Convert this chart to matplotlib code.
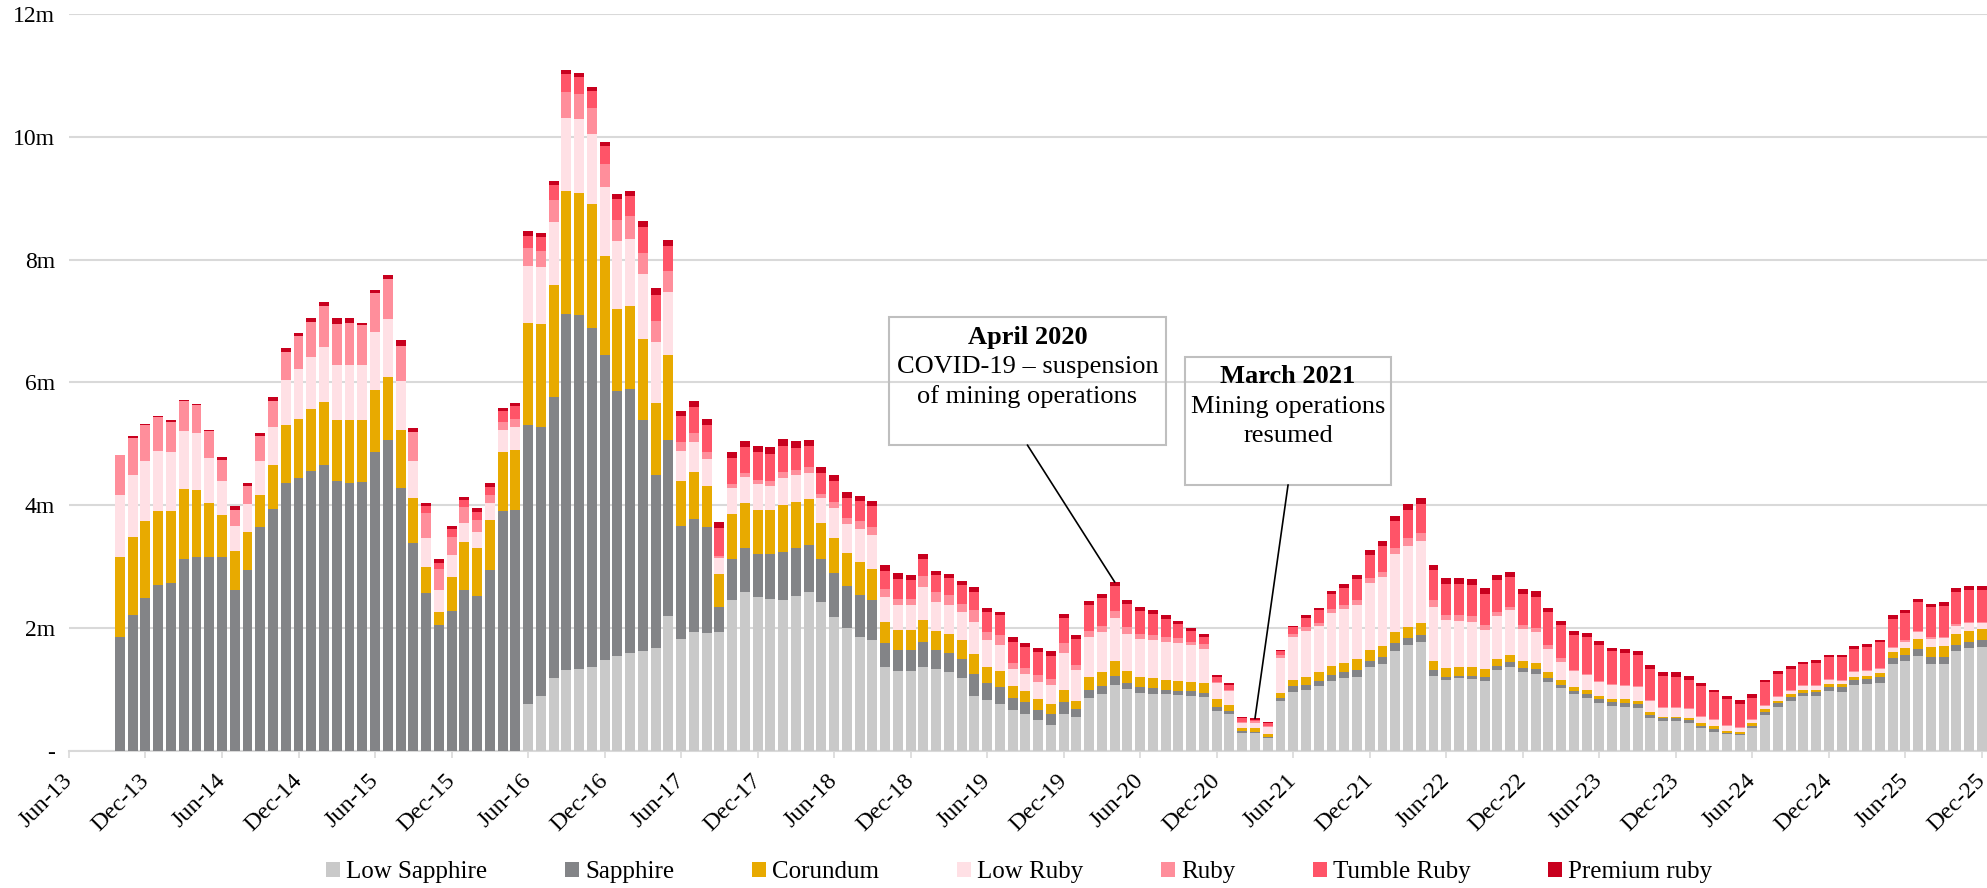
import matplotlib.pyplot as plt
import numpy as np
from matplotlib.patches import Rectangle

plt.rcParams['font.family'] = ['Liberation Serif', 'DejaVu Serif']

# monthly volumes in millions, Oct-13 .. Dec-25 (147 months)
low_sapphire = [0.0] * 32 + [
    0.77, 0.90, 1.19, 1.32, 1.34, 1.36, 1.48, 1.54, 1.60, 1.62,
    1.68, 2.20, 1.82, 1.94, 1.92, 1.93, 2.46, 2.59, 2.50, 2.48,
    2.46, 2.52, 2.58, 2.43, 2.18, 2.00, 1.86, 1.80, 1.36, 1.30,
    1.31, 1.37, 1.33, 1.28, 1.18, 0.90, 0.83, 0.77, 0.66, 0.61,
    0.50, 0.43, 0.60, 0.56, 0.86, 0.92, 1.07, 1.01, 0.94, 0.93,
    0.92, 0.91, 0.90, 0.88, 0.65, 0.60, 0.30, 0.29, 0.21, 0.81,
    0.96, 1.00, 1.05, 1.14, 1.18, 1.21, 1.36, 1.41, 1.62, 1.72,
    1.77, 1.22, 1.16, 1.18, 1.17, 1.14, 1.32, 1.37, 1.28, 1.25,
    1.12, 1.02, 0.92, 0.87, 0.78, 0.74, 0.72, 0.70, 0.54, 0.48,
    0.48, 0.46, 0.38, 0.31, 0.28, 0.26, 0.38, 0.58, 0.72, 0.82,
    0.89, 0.90, 0.97, 0.96, 1.08, 1.09, 1.11, 1.41, 1.46, 1.54,
    1.42, 1.42, 1.62, 1.68, 1.70]

sapphire = [
    1.86, 2.22, 2.49, 2.70, 2.74, 3.12, 3.16, 3.16, 3.16, 2.62,
    2.94, 3.65, 3.94, 4.37, 4.45, 4.56, 4.66, 4.40, 4.37, 4.38,
    4.86, 5.06, 4.28, 3.38, 2.57, 2.05, 2.28, 2.62, 2.52, 2.94,
    3.90, 3.92, 4.54, 4.38, 4.58, 5.80, 5.75, 5.52, 4.97, 4.32,
    4.30, 3.77, 2.81, 2.86, 1.84, 1.83, 1.73, 0.42, 0.66, 0.71,
    0.71, 0.73, 0.78, 0.78, 0.77, 0.70, 0.72, 0.69, 0.68, 0.65,
    0.40, 0.35, 0.34, 0.40, 0.32, 0.32, 0.32, 0.36, 0.27, 0.27,
    0.21, 0.18, 0.17, 0.17, 0.20, 0.12, 0.14, 0.14, 0.15, 0.10,
    0.10, 0.10, 0.08, 0.07, 0.07, 0.07, 0.06, 0.05, 0.02, 0.02,
    0.02, 0.06, 0.09, 0.08, 0.09, 0.10, 0.11, 0.11, 0.10, 0.12,
    0.14, 0.12, 0.12, 0.10, 0.05, 0.04, 0.05, 0.06, 0.06, 0.08,
    0.07, 0.08, 0.06, 0.06, 0.06, 0.06, 0.06, 0.05, 0.06, 0.06,
    0.05, 0.05, 0.05, 0.04, 0.03, 0.04, 0.02, 0.02, 0.03, 0.06,
    0.06, 0.06, 0.06, 0.06, 0.07, 0.08, 0.08, 0.08, 0.10, 0.10,
    0.10, 0.12, 0.11, 0.11, 0.11, 0.10, 0.10]

corundum = [
    1.30, 1.27, 1.25, 1.21, 1.16, 1.14, 1.09, 0.88, 0.68, 0.63,
    0.62, 0.51, 0.72, 0.93, 0.96, 1.01, 1.02, 0.99, 1.01, 1.00,
    1.02, 1.02, 0.94, 0.74, 0.43, 0.22, 0.56, 0.78, 0.78, 0.82,
    0.97, 0.98, 1.66, 1.67, 1.82, 1.99, 2.00, 2.02, 1.61, 1.34,
    1.34, 1.31, 1.18, 1.38, 0.74, 0.77, 0.66, 0.53, 0.74, 0.74,
    0.72, 0.71, 0.77, 0.76, 0.75, 0.58, 0.56, 0.54, 0.54, 0.52,
    0.34, 0.32, 0.32, 0.36, 0.31, 0.31, 0.30, 0.32, 0.27, 0.27,
    0.18, 0.18, 0.17, 0.17, 0.20, 0.14, 0.21, 0.22, 0.24, 0.20,
    0.17, 0.16, 0.16, 0.16, 0.16, 0.15, 0.13, 0.10, 0.06, 0.06,
    0.04, 0.07, 0.10, 0.13, 0.15, 0.15, 0.15, 0.18, 0.18, 0.18,
    0.18, 0.18, 0.19, 0.15, 0.14, 0.14, 0.14, 0.13, 0.12, 0.11,
    0.11, 0.11, 0.10, 0.07, 0.06, 0.06, 0.06, 0.06, 0.06, 0.06,
    0.04, 0.03, 0.03, 0.04, 0.04, 0.05, 0.03, 0.03, 0.05, 0.04,
    0.04, 0.04, 0.05, 0.04, 0.05, 0.05, 0.04, 0.05, 0.06, 0.10,
    0.12, 0.17, 0.17, 0.18, 0.18, 0.18, 0.18]

low_ruby = [
    1.01, 1.00, 0.98, 0.98, 0.96, 0.95, 0.92, 0.73, 0.56, 0.42,
    0.46, 0.56, 0.62, 0.74, 0.81, 0.84, 0.90, 0.90, 0.90, 0.90,
    0.94, 0.95, 0.80, 0.60, 0.47, 0.35, 0.35, 0.31, 0.26, 0.27,
    0.35, 0.37, 0.92, 0.92, 1.02, 1.20, 1.20, 1.15, 1.12, 1.10,
    1.10, 1.06, 0.99, 1.03, 0.48, 0.49, 0.45, 0.26, 0.42, 0.42,
    0.41, 0.40, 0.44, 0.43, 0.43, 0.40, 0.50, 0.47, 0.53, 0.54,
    0.41, 0.40, 0.40, 0.54, 0.46, 0.47, 0.47, 0.52, 0.43, 0.42,
    0.29, 0.28, 0.29, 0.30, 0.60, 0.50, 0.65, 0.66, 0.71, 0.60,
    0.62, 0.62, 0.62, 0.62, 0.59, 0.56, 0.26, 0.23, 0.07, 0.09,
    0.12, 0.58, 0.70, 0.74, 0.74, 0.85, 0.87, 0.88, 1.09, 1.12,
    1.26, 1.32, 1.33, 0.88, 0.79, 0.76, 0.74, 0.64, 0.70, 0.73,
    0.52, 0.49, 0.38, 0.30, 0.26, 0.24, 0.22, 0.22, 0.22, 0.22,
    0.18, 0.14, 0.14, 0.14, 0.10, 0.10, 0.07, 0.06, 0.04, 0.05,
    0.06, 0.05, 0.05, 0.05, 0.06, 0.05, 0.08, 0.08, 0.06, 0.07,
    0.10, 0.11, 0.13, 0.13, 0.13, 0.12, 0.10]

ruby = [
    0.64, 0.61, 0.58, 0.54, 0.50, 0.49, 0.46, 0.44, 0.34, 0.26,
    0.30, 0.40, 0.42, 0.46, 0.53, 0.58, 0.66, 0.66, 0.68, 0.66,
    0.63, 0.66, 0.58, 0.47, 0.40, 0.34, 0.30, 0.26, 0.20, 0.13,
    0.13, 0.14, 0.29, 0.27, 0.36, 0.42, 0.40, 0.41, 0.38, 0.35,
    0.36, 0.35, 0.34, 0.35, 0.15, 0.15, 0.10, 0.04, 0.06, 0.06,
    0.07, 0.07, 0.09, 0.08, 0.09, 0.08, 0.10, 0.10, 0.14, 0.14,
    0.12, 0.11, 0.11, 0.18, 0.16, 0.16, 0.13, 0.20, 0.14, 0.15,
    0.10, 0.10, 0.10, 0.10, 0.16, 0.08, 0.10, 0.10, 0.11, 0.10,
    0.08, 0.08, 0.08, 0.08, 0.06, 0.08, 0.03, 0.02, 0.02, 0.02,
    0.01, 0.05, 0.06, 0.06, 0.06, 0.07, 0.06, 0.07, 0.09, 0.08,
    0.11, 0.12, 0.14, 0.10, 0.08, 0.10, 0.10, 0.08, 0.07, 0.06,
    0.07, 0.07, 0.06, 0.06, 0.02, 0.03, 0.02, 0.02, 0.02, 0.02,
    0.02, 0.02, 0.02, 0.02, 0.02, 0.02, 0.02, 0.02, 0.02, 0.02,
    0.02, 0.02, 0.02, 0.02, 0.02, 0.02, 0.02, 0.02, 0.02, 0.02,
    0.02, 0.02, 0.02, 0.02, 0.02, 0.02, 0.02]

tumble_ruby = [0.0] * 24 + [
    0.11, 0.10, 0.12, 0.11, 0.13, 0.14,
    0.18, 0.20, 0.21, 0.22, 0.24, 0.29, 0.28, 0.28, 0.28, 0.34,
    0.34, 0.42, 0.43, 0.40, 0.42, 0.42, 0.45, 0.45, 0.43, 0.42,
    0.45, 0.45, 0.43, 0.36, 0.34, 0.34, 0.34, 0.32, 0.32, 0.33,
    0.30, 0.32, 0.30, 0.28, 0.28, 0.28, 0.30, 0.29, 0.32, 0.33,
    0.34, 0.34, 0.38, 0.38, 0.40, 0.42, 0.42, 0.45, 0.40, 0.38,
    0.37, 0.34, 0.29, 0.23, 0.17, 0.12, 0.08, 0.08, 0.06, 0.03,
    0.05, 0.05, 0.11, 0.16, 0.20, 0.24, 0.29, 0.35, 0.37, 0.42,
    0.43, 0.46, 0.47, 0.50, 0.50, 0.50, 0.50, 0.50, 0.51, 0.49,
    0.50, 0.51, 0.54, 0.54, 0.56, 0.59, 0.58, 0.53, 0.52, 0.50,
    0.51, 0.50, 0.49, 0.46, 0.48, 0.44, 0.42, 0.38, 0.35, 0.37,
    0.35, 0.34, 0.34, 0.37, 0.36, 0.37, 0.36, 0.38, 0.42, 0.45,
    0.45, 0.46, 0.49, 0.50, 0.52, 0.52, 0.52]

premium_ruby = [
    0.01, 0.02, 0.02, 0.02, 0.02, 0.01, 0.01, 0.02, 0.04, 0.06,
    0.05, 0.05, 0.06, 0.06, 0.05, 0.05, 0.07, 0.10, 0.09, 0.03,
    0.05, 0.05, 0.09, 0.07, 0.05, 0.06, 0.05, 0.06, 0.06, 0.06,
    0.06, 0.06, 0.07, 0.07, 0.07, 0.06, 0.07, 0.06, 0.07, 0.08,
    0.08, 0.09, 0.10, 0.09, 0.09, 0.10, 0.10, 0.10, 0.10, 0.10,
    0.10, 0.11, 0.11, 0.11, 0.10, 0.10, 0.10, 0.10, 0.08, 0.09,
    0.10, 0.09, 0.08, 0.08, 0.07, 0.06, 0.07, 0.08, 0.06, 0.06,
    0.07, 0.07, 0.07, 0.07, 0.07, 0.06, 0.06, 0.07, 0.07, 0.07,
    0.06, 0.06, 0.06, 0.05, 0.05, 0.05, 0.03, 0.02, 0.02, 0.02,
    0.02, 0.02, 0.02, 0.04, 0.04, 0.06, 0.06, 0.06, 0.08, 0.08,
    0.09, 0.10, 0.10, 0.08, 0.10, 0.09, 0.10, 0.10, 0.08, 0.07,
    0.08, 0.09, 0.07, 0.07, 0.08, 0.07, 0.07, 0.06, 0.06, 0.06,
    0.06, 0.07, 0.07, 0.06, 0.05, 0.04, 0.05, 0.06, 0.06, 0.04,
    0.05, 0.05, 0.04, 0.04, 0.04, 0.04, 0.05, 0.04, 0.04, 0.06,
    0.05, 0.05, 0.06, 0.06, 0.07, 0.07, 0.07]

series_names = ['Low Sapphire', 'Sapphire', 'Corundum', 'Low Ruby', 'Ruby',
                'Tumble Ruby', 'Premium ruby']
series_colors = ['#C9C9C9', '#838487', '#E8AA00', '#FFE0E5', '#FF8E9B',
                 '#FF5468', '#C8001E']

tick_labels = ['Jun-13', 'Dec-13', 'Jun-14', 'Dec-14', 'Jun-15', 'Dec-15',
               'Jun-16', 'Dec-16', 'Jun-17', 'Dec-17', 'Jun-18', 'Dec-18',
               'Jun-19', 'Dec-19', 'Jun-20', 'Dec-20', 'Jun-21', 'Dec-21',
               'Jun-22', 'Dec-22', 'Jun-23', 'Dec-23', 'Jun-24', 'Dec-24',
               'Jun-25', 'Dec-25']
ytick_labels = ['-', '2m', '4m', '6m', '8m', '10m', '12m']

# annotated months (index from Oct-13)
covid_idx = 78     # Apr-20
resume_idx = 89    # Mar-21

series = [low_sapphire, sapphire, corundum, low_ruby, ruby, tumble_ruby, premium_ruby]
x = np.arange(len(sapphire))

fig = plt.figure(figsize=(19.87, 8.88), dpi=100)
ax = fig.add_axes([0.0347, 0.1543, 0.9653, 0.8302])

bottom = np.zeros(len(x))
handles = []
for vals, name, col in zip(series, series_names, series_colors):
    vals = np.array(vals)
    h = ax.bar(x, vals, width=0.78, bottom=bottom, color=col, label=name,
               linewidth=0, zorder=3)
    handles.append(h)
    bottom = bottom + vals
totals = bottom

ax.set_xlim(-4, len(x) - 1 + 0.4)
ax.set_ylim(0, 12)

ax.set_yticks(np.arange(0, 13, 2))
ax.set_yticklabels(ytick_labels, fontsize=17)
ax.tick_params(axis='y', length=0, pad=10)
ax.grid(axis='y', color='#D9D9D9', linewidth=1.5, zorder=0)
ax.set_axisbelow(True)

ax.set_xticks(np.arange(-4, len(x), 6))
ax.set_xticklabels(tick_labels, fontsize=17.5)
ax.tick_params(axis='x', direction='out', length=5, width=1.2, color='#D9D9D9', pad=14)
for lbl in ax.get_xticklabels():
    lbl.set_rotation(45)
    lbl.set_ha('right')
    lbl.set_va('center')
    lbl.set_rotation_mode('anchor')

for side in ['top', 'right', 'left']:
    ax.spines[side].set_visible(False)
ax.spines['bottom'].set_color('#D9D9D9')
ax.spines['bottom'].set_linewidth(1.5)

ax.legend(handles, series_names, loc='center', bbox_to_anchor=(0.513, 0.018),
          bbox_transform=fig.transFigure, ncol=7, frameon=False, fontsize=18,
          handlelength=0.56, handleheight=0.56, handletextpad=0.25,
          columnspacing=3.1)

# annotation boxes
box1 = Rectangle((0.4275, 0.415), 0.1445, 0.174, transform=ax.transAxes,
                 facecolor='none', edgecolor='#BFBFBF', linewidth=1.5, zorder=6)
ax.add_patch(box1)
ax.text(0.4997, 0.552, 'April 2020', transform=ax.transAxes, ha='center',
        va='baseline', fontsize=19, fontweight='bold', zorder=7)
ax.text(0.4997, 0.513, 'COVID-19 \u2013 suspension', transform=ax.transAxes,
        ha='center', va='baseline', fontsize=19, zorder=7)
ax.text(0.4997, 0.472, 'of mining operations', transform=ax.transAxes,
        ha='center', va='baseline', fontsize=19, zorder=7)
ax.annotate('', xy=(covid_idx, totals[covid_idx]), xycoords='data',
            xytext=(0.4997, 0.415), textcoords='axes fraction',
            arrowprops=dict(arrowstyle='-', color='black', lw=1.2,
                            shrinkA=0, shrinkB=0), zorder=7)

box2 = Rectangle((0.5819, 0.361), 0.1074, 0.1736, transform=ax.transAxes,
                 facecolor='none', edgecolor='#BFBFBF', linewidth=1.5, zorder=6)
ax.add_patch(box2)
ax.text(0.6356, 0.4993, 'March 2021', transform=ax.transAxes, ha='center',
        va='baseline', fontsize=19, fontweight='bold', zorder=7)
ax.text(0.6356, 0.4589, 'Mining operations', transform=ax.transAxes,
        ha='center', va='baseline', fontsize=19, zorder=7)
ax.text(0.6356, 0.419, 'resumed', transform=ax.transAxes,
        ha='center', va='baseline', fontsize=19, zorder=7)
ax.annotate('', xy=(resume_idx, totals[resume_idx]), xycoords='data',
            xytext=(0.6356, 0.361), textcoords='axes fraction',
            arrowprops=dict(arrowstyle='-', color='black', lw=1.2,
                            shrinkA=0, shrinkB=0), zorder=7)

fig.savefig('out.png', dpi=100)
